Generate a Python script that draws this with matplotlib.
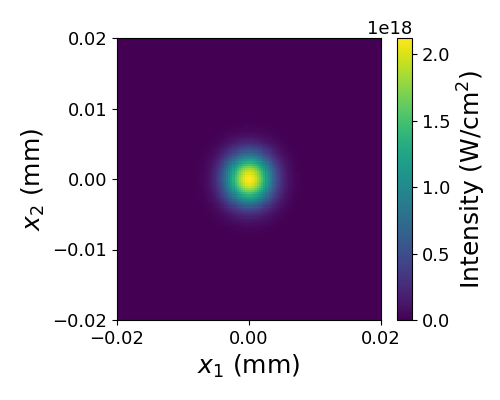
import numpy as np
import matplotlib
matplotlib.use("Agg")
import matplotlib.pyplot as plt

# Beam parameters
peak_intensity = 2.13e18      # W/cm^2
beam_waist_mm = 0.0050        # 1/e^2 radius, mm
half_width_mm = 0.02
n_cells = 128
x_ticks = [-0.02, 0.00, 0.02]
y_ticks = [-0.02, -0.01, 0.00, 0.01, 0.02]
cbar_ticks = [0.0, 0.5e18, 1.0e18, 1.5e18, 2.0e18]

x1 = np.linspace(-half_width_mm, half_width_mm, n_cells)
x2 = np.linspace(-half_width_mm, half_width_mm, n_cells)
X1, X2 = np.meshgrid(x1, x2)
intensity = peak_intensity * np.exp(-2 * (X1**2 + X2**2) / beam_waist_mm**2)

fig = plt.figure(figsize=(5, 4), dpi=100)
ax = fig.add_axes([0.234, 0.2, 0.528, 0.705])
im = ax.imshow(intensity, origin="lower", cmap="viridis",
               extent=[-half_width_mm, half_width_mm, -half_width_mm, half_width_mm],
               aspect="auto", interpolation="nearest", vmin=0)
ax.set_xticks(x_ticks)
ax.set_yticks(y_ticks)
ax.set_xticklabels([f"{t:.2f}".replace("-", "\u2212") for t in x_ticks])
ax.set_yticklabels([f"{t:.2f}".replace("-", "\u2212") for t in y_ticks])
ax.tick_params(labelsize=13)
ax.set_xlabel(r"$x_1$ (mm)", fontsize=18)
ax.set_ylabel(r"$x_2$ (mm)", fontsize=18)

cax = fig.add_axes([0.794, 0.2, 0.03, 0.705])
cb = fig.colorbar(im, cax=cax)
cb.set_ticks(cbar_ticks)
cb.ax.tick_params(labelsize=13)
cb.ax.yaxis.get_offset_text().set_fontsize(13)
cb.set_label(r"Intensity (W/cm$^2$)", fontsize=18)

fig.savefig("out.png", dpi=100)
